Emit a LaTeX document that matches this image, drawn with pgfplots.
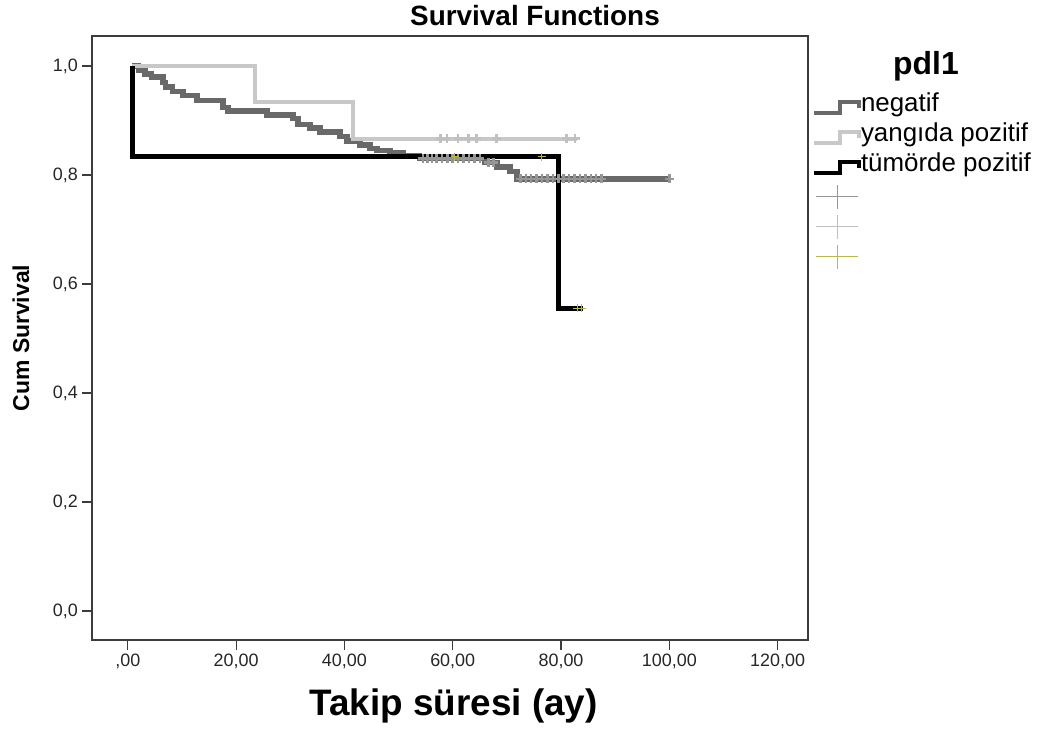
\documentclass[border=0pt]{standalone}
\usepackage{pgfplots}
\pgfplotsset{compat=1.18}
\usepackage{fontspec}
\setmainfont{Liberation Sans}
\definecolor{neg}{RGB}{105,105,105}
\definecolor{yan}{RGB}{200,200,200}
\definecolor{negc}{RGB}{150,150,150}
\definecolor{yanc}{RGB}{192,192,192}
\definecolor{tumc}{RGB}{185,185,80}
\definecolor{frame}{RGB}{60,60,60}

\pgfplotsset{
  steplegend/.style={legend image code/.code={\draw[##1, line width=4bp] (0bp,-6bp) -- (26bp,-6bp) -- (26bp,5bp) -- (45bp,5bp) -- (45bp,-1bp);}},
  crosslegend/.style={legend image code/.code={\draw[##1] (2bp,0bp) -- (44bp,0bp) (23bp,-12bp) -- (23bp,12bp);}},
}

\pgfplotstableread{
x y
0.8 1.000
2.0 0.992
3.2 0.985
4.4 0.980
6.5 0.970
7.0 0.961
8.3 0.953
10.2 0.946
12.8 0.937
17.6 0.924
18.5 0.917
25.7 0.910
30.5 0.904
31.4 0.893
33.6 0.886
35.5 0.879
39.2 0.871
40.5 0.862
42.9 0.855
44.7 0.849
46.0 0.845
48.4 0.841
50.8 0.836
53.9 0.830
66.0 0.823
68.2 0.815
70.6 0.806
71.9 0.793
100.0 0.793
}\negatif

\pgfplotstableread{
x y
0.8 1.0000
23.5 0.9333
41.5 0.8667
83.0 0.8667
}\yangida

\pgfplotstableread{
x y
0.8 1.0000
0.8 0.8333
79.5 0.5556
84.0 0.5556
}\tumorde

\pgfplotstableread{
x y
54.5 0.830
55.3 0.830
56.2 0.830
57.0 0.830
58.0 0.830
59.0 0.830
60.0 0.830
61.0 0.830
62.0 0.830
63.0 0.830
64.0 0.830
65.0 0.830
66.6 0.823
67.5 0.823
72.5 0.793
73.5 0.793
74.5 0.793
75.5 0.793
76.5 0.793
77.5 0.793
78.5 0.793
79.5 0.793
80.5 0.793
81.5 0.793
82.5 0.793
83.5 0.793
84.5 0.793
85.5 0.793
86.5 0.793
87.5 0.793
100.0 0.793
}\negcens

\pgfplotstableread{
x y
57.7 0.8667
58.9 0.8667
61.0 0.8667
62.9 0.8667
64.4 0.8667
68.1 0.8667
81.0 0.8667
82.6 0.8667
}\yancens

\pgfplotstableread{
x y
60.4 0.8333
76.4 0.8333
83.0 0.5556
83.8 0.5556
}\tumcens

\begin{document}
\begin{tikzpicture}[x=1bp,y=1bp]
\path[use as bounding box] (0,0) rectangle (1047,731);
\begin{axis}[
  at={(92bp,91bp)}, anchor=south west,
  width=716bp, height=604bp, scale only axis,
  xmin=-6.61, xmax=125.61,
  ymin=-0.0532, ymax=1.055,
  xtick={0,20,40,60,80,100,120},
  xticklabels={{,00},{20,00},{40,00},{60,00},{80,00},{100,00},{120,00}},
  ytick={0,0.2,0.4,0.6,0.8,1.0},
  yticklabels={{0,0},{0,2},{0,4},{0,6},{0,8},{1,0}},
  xtick pos=left, ytick pos=left,
  tick align=outside, major tick length=10bp,
  axis line style={frame, line width=1.2bp},
  tick style={frame, line width=1.2bp},
  ticklabel style={font=\fontsize{18}{20}\selectfont, text=black!85},
  xticklabel style={anchor=north, inner sep=0pt, yshift=-4bp},
  yticklabel style={anchor=east, inner sep=0pt, xshift=-4bp},
  /pgf/number format/assume math mode=true,
  title={Survival Functions},
  title style={at={(axis description cs:0.6187,1.0)}, anchor=base, inner sep=0pt, yshift=5bp, font=\fontsize{28}{32}\selectfont\bfseries},
  xlabel={Takip süresi (ay)},
  xlabel style={at={(axis description cs:0.505,-0.1242)}, anchor=base, inner sep=0pt, font=\fontsize{37}{42}\selectfont\bfseries},
  ylabel={Cum Survival},
  ylabel style={at={(axis description cs:-0.0992,0.5)}, anchor=center, inner sep=0pt, font=\fontsize{23}{27}\selectfont\bfseries},
  clip=false,
  legend style={at={(axis description cs:1.0056,0.908)}, anchor=north west, draw=none, fill=none,
    inner sep=0pt, outer sep=0pt, row sep=0bp,
    font=\fontsize{26}{30}\selectfont,
    nodes={inner sep=0pt, text height=20bp, text depth=10bp}},
  legend cell align=left,
]
\addplot[const plot, neg, line width=5.5bp, line join=miter, steplegend]
  table[x=x,y=y] {\negatif};
\addlegendentry{negatif}
\addplot[const plot, yan, line width=4bp, line join=miter, steplegend]
  table[x=x,y=y] {\yangida};
\addlegendentry{yangıda pozitif}
\addplot[const plot, black, line width=5bp, line join=miter, steplegend]
  table[x=x,y=y] {\tumorde};
\addlegendentry{tümörde pozitif}
\addplot[only marks, mark=+, mark size=4.5bp, negc, line width=2.5bp, forget plot] table[x=x,y=y] {\negcens};
\addplot[only marks, mark=+, mark size=4.5bp, yanc, line width=2.5bp, forget plot] table[x=x,y=y] {\yancens};
\addplot[only marks, mark=+, mark size=4bp, tumc, line width=1.2bp, forget plot] table[x=x,y=y] {\tumcens};
\addlegendimage{crosslegend, negc, line width=1bp}
\addlegendentry{\ }
\addlegendimage{crosslegend, yanc, line width=1bp}
\addlegendentry{\ }
\addlegendimage{crosslegend, tumc, line width=1bp}
\addlegendentry{\ }
\node[anchor=base, inner sep=0pt, font=\fontsize{32}{36}\selectfont\bfseries] at (axis description cs:1.1648,0.937) {pdl1};
\end{axis}
\end{tikzpicture}
\end{document}
